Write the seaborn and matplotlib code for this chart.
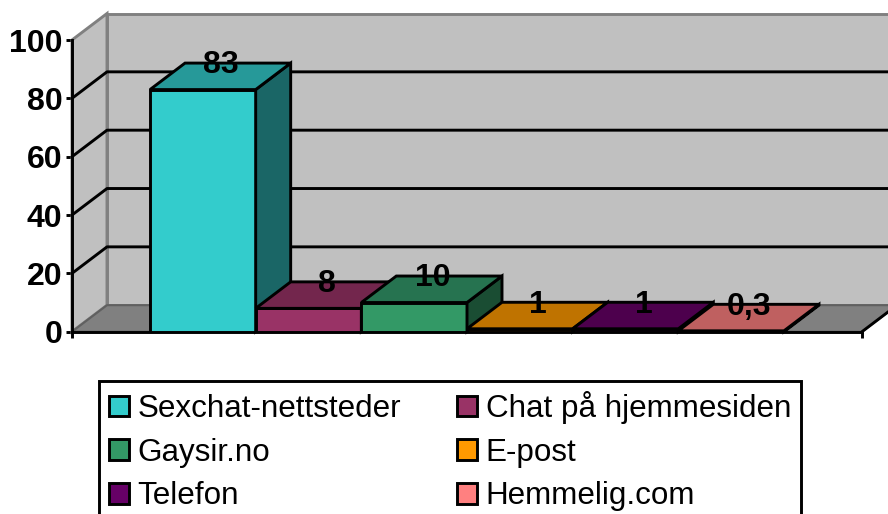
import matplotlib
matplotlib.use('Agg')
import matplotlib.pyplot as plt
import pandas as pd
import seaborn as sns
from matplotlib.patches import Polygon

# Data
kanaler = ['Sexchat-nettsteder', 'Chat på hjemmesiden', 'Gaysir.no', 'E-post', 'Telefon', 'Hemmelig.com']
verdier = [83, 8, 10, 1, 1, 0.3]
etiketter = ['83', '8', '10', '1', '1', '0,3']
y_ticks = [0, 20, 40, 60, 80, 100]

farger = ['#33CCCC', '#993366', '#339966', '#FF9900', '#660066', '#FF8080']
topp_farger = ['#269999', '#73264D', '#267350', '#BF7300', '#4D004D', '#BF6060']
side_farger = ['#1A6666', '#4D1933', '#1A4D33', '#805000', '#330033', '#804040']

sns.set_theme(style='ticks')
plt.rcParams['font.family'] = ['Liberation Sans', 'DejaVu Sans']

W, H = 888, 514
LW = 2.1
fig = plt.figure(figsize=(W / 100, H / 100), dpi=100)
ax = fig.add_axes([72 / W, (H - 331.7) / H, 790 / W, 291.7 / H])

df = pd.DataFrame({'gruppe': [''] * len(kanaler), 'kanal': kanaler, 'verdi': verdier})
sns.barplot(data=df, x='gruppe', y='verdi', hue='kanal', hue_order=kanaler, palette=farger,
            width=0.8025, gap=0, saturation=1, edgecolor='black', linewidth=LW,
            errorbar=None, ax=ax, zorder=3)

ax.set_xlim(-0.5, 0.5)
ax.set_ylim(0, 100)

# 3D-dybde i dataenheter
dx = 35 / 790
dy = 26.5 / 291.7 * 100
x0, x1 = -0.5, 0.5

# Vegger og gulv
vegg = '#C0C0C0'
kant = '#808080'
ax.add_patch(Polygon([(x0 + dx, dy), (x1 + dx, dy), (x1 + dx, 100 + dy), (x0 + dx, 100 + dy)],
                     fc=vegg, ec=kant, lw=LW, clip_on=False, zorder=0.5))
ax.add_patch(Polygon([(x0, 0), (x0 + dx, dy), (x0 + dx, 100 + dy), (x0, 100)],
                     fc=vegg, ec=kant, lw=LW, clip_on=False, zorder=0.6))
ax.add_patch(Polygon([(x0, 0), (x1, 0), (x1 + dx, dy), (x0 + dx, dy)],
                     fc=kant, ec='#606060', lw=1.5, clip_on=False, zorder=0.7))
ax.plot([x1, x1 + dx], [0, dy], color='black', lw=LW, clip_on=False, zorder=2)

# Rutenett
for v in y_ticks[1:-1]:
    ax.plot([x0, x0 + dx, x1 + dx], [v, v + dy, v + dy], color='black', lw=LW,
            clip_on=False, zorder=1)

# Sider, topper og etiketter for hver stolpe
for i, cont in enumerate(ax.containers):
    bar = cont.patches[0]
    l = bar.get_x()
    r = l + bar.get_width()
    h = bar.get_height()
    bar.set_zorder(3 + i * 0.1)
    ax.add_patch(Polygon([(r, 0), (r + dx, dy), (r + dx, h + dy), (r, h)], fc=side_farger[i],
                         ec='black', lw=LW, clip_on=False, zorder=3 + i * 0.1))
    ax.add_patch(Polygon([(l, h), (r, h), (r + dx, h + dy), (l + dx, h + dy)], fc=topp_farger[i],
                         ec='black', lw=LW, clip_on=False, zorder=3 + i * 0.1))
    ax.text((l + r + dx) / 2 + 0.001, h + dy - 0.8, etiketter[i], ha='center', va='center', fontsize=23,
            fontweight='bold', color='black', zorder=10, clip_on=False)

# Akser
sns.despine(ax=ax)
for s in ['left', 'bottom']:
    ax.spines[s].set_color('black')
    ax.spines[s].set_linewidth(LW)
ax.set_xlabel('')
ax.set_ylabel('')
ax.set_xticks([x0, x1])
ax.set_xticklabels([])
ax.set_yticks(y_ticks)
ax.tick_params(axis='both', length=4.5, width=LW, color='black', pad=2.5)
ax.tick_params(axis='y', labelsize=23, labelcolor='black')
for t in ax.get_yticklabels():
    t.set_fontweight('bold')

# Forklaring, fylles kolonnevis
handles, labels = ax.get_legend_handles_labels()
ax.get_legend().remove()
rekkefolge = [0, 2, 4, 1, 3, 5]
leg = fig.legend([handles[i] for i in rekkefolge], [labels[i] for i in rekkefolge], ncol=2,
                 loc='upper left', bbox_to_anchor=(99 / W, 1 - 380.5 / H), borderaxespad=0,
                 fontsize=22.6, frameon=True, fancybox=False, edgecolor='black', framealpha=1,
                 handlelength=0.63, handleheight=0.63, handletextpad=0.27, columnspacing=1.79,
                 labelspacing=0.44, borderpad=0.33, labelcolor='black')
leg.get_frame().set_linewidth(LW)

fig.savefig('out.png', dpi=100)
